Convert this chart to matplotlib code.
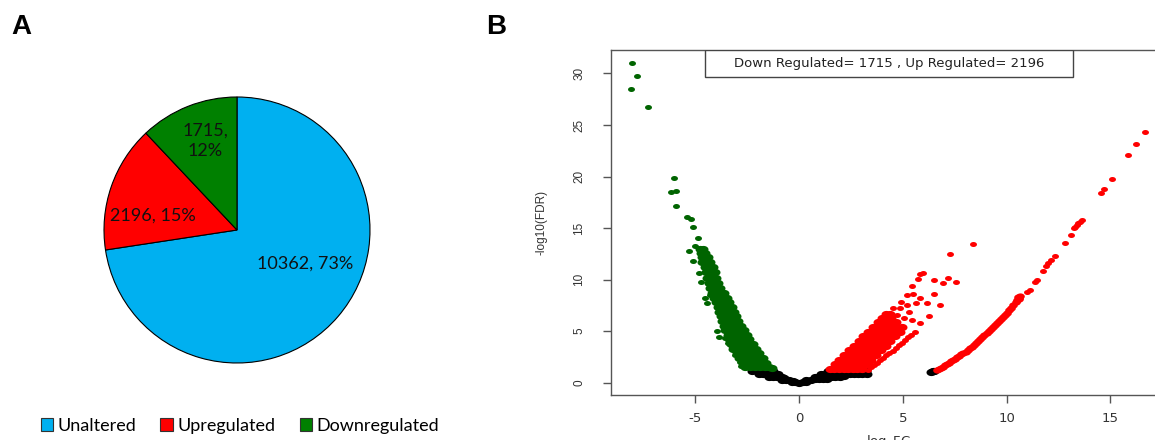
import numpy as np
import matplotlib
matplotlib.use("Agg")
import matplotlib.pyplot as plt
from matplotlib.path import Path
from matplotlib.patches import Rectangle, Patch

plt.rcParams['axes.unicode_minus'] = False

# ---------------- Panel A: gene categories ----------------
pie_labels = ["Unaltered", "Upregulated", "Downregulated"]
pie_counts = [10362, 2196, 1715]
pie_colors = ["#00B0F0", "#FF0000", "#008000"]

# ---------------- Panel B: volcano plot (logFC, -log10 FDR) ----------------
green_outliers = [
    (-8.08, 30.98), (-7.82, 29.75), (-8.11, 28.49), (-7.28, 26.71),
    (-6.02, 19.82), (-6.20, 18.47), (-5.94, 18.62), (-5.96, 17.11),
    (-5.43, 16.10), (-5.23, 15.91), (-5.11, 15.13), (-4.87, 14.06),
    (-5.01, 13.29), (-5.30, 12.80), (-5.11, 11.84), (-4.82, 10.67),
    (-4.74, 9.74), (-4.55, 8.20), (-4.45, 7.75), (-4.30, 8.51),
    (-3.95, 5.00), (-3.85, 4.40), (-3.58, 4.31), (-3.42, 3.82),
    (-3.26, 3.49), (-3.10, 2.69), (-2.85, 2.05), (-2.80, 1.60),
]
green_band = [
    (-4.78, 13.0), (-4.62, 13.0),
    (-4.74, 12.6), (-4.55, 12.6),
    (-4.70, 12.2), (-4.50, 12.2), (-4.38, 12.2),
    (-4.66, 11.7), (-4.45, 11.7), (-4.28, 11.7),
    (-4.55, 11.2), (-4.35, 11.2), (-4.17, 11.2),
    (-4.50, 10.7), (-4.30, 10.7), (-4.08, 10.7),
    (-4.42, 10.2), (-4.22, 10.2), (-4.00, 10.2),
    (-4.35, 9.7), (-4.15, 9.7), (-3.90, 9.7),
    (-4.28, 9.2), (-4.05, 9.2), (-3.80, 9.2),
    (-4.22, 8.7), (-4.00, 8.7), (-3.78, 8.7), (-3.62, 8.7),
    (-4.12, 8.25), (-3.90, 8.25), (-3.68, 8.25), (-3.50, 8.25),
    (-4.00, 7.8), (-3.80, 7.8), (-3.58, 7.8), (-3.38, 7.8),
    (-3.92, 7.35), (-3.70, 7.35), (-3.48, 7.35), (-3.26, 7.35),
    (-3.85, 6.9), (-3.62, 6.9), (-3.38, 6.9), (-3.16, 6.9),
    (-3.76, 6.45), (-3.54, 6.45), (-3.30, 6.45), (-3.06, 6.45),
    (-3.70, 6.0), (-3.46, 6.0), (-3.20, 6.0), (-2.96, 6.0),
    (-3.62, 5.55), (-3.38, 5.55), (-3.12, 5.55), (-2.90, 5.55), (-2.80, 5.55),
    (-3.56, 5.1), (-3.30, 5.1), (-3.04, 5.1), (-2.80, 5.1), (-2.66, 5.1),
    (-3.45, 4.65), (-3.20, 4.65), (-2.96, 4.65), (-2.72, 4.65), (-2.52, 4.65),
    (-3.38, 4.2), (-3.14, 4.2), (-2.90, 4.2), (-2.64, 4.2), (-2.40, 4.2),
    (-3.30, 3.75), (-3.08, 3.75), (-2.84, 3.75), (-2.58, 3.75), (-2.34, 3.75), (-2.24, 3.75),
    (-3.18, 3.3), (-2.96, 3.3), (-2.72, 3.3), (-2.48, 3.3), (-2.22, 3.3), (-2.08, 3.3),
    (-3.00, 2.85), (-2.78, 2.85), (-2.56, 2.85), (-2.32, 2.85), (-2.08, 2.85), (-1.92, 2.85),
    (-2.90, 2.4), (-2.66, 2.4), (-2.42, 2.4), (-2.18, 2.4), (-1.94, 2.4), (-1.76, 2.4),
    (-2.72, 1.95), (-2.50, 1.95), (-2.26, 1.95), (-2.02, 1.95), (-1.78, 1.95), (-1.60, 1.95),
    (-2.62, 1.5), (-2.38, 1.5), (-2.14, 1.5), (-1.90, 1.5), (-1.66, 1.5), (-1.45, 1.5), (-1.32, 1.45),
]
black_core = [
    (-2.25, 1.15), (-2.05, 1.15), (-1.85, 1.15), (-1.65, 1.15), (-1.45, 1.15), (-1.28, 1.12),
    (-1.95, 0.85), (-1.75, 0.85), (-1.55, 0.85), (-1.35, 0.85), (-1.15, 0.85), (-1.00, 0.80),
    (-1.45, 0.55), (-1.25, 0.55), (-1.05, 0.55), (-0.85, 0.55), (-0.72, 0.50),
    (-0.85, 0.30), (-0.65, 0.30), (-0.50, 0.28), (-0.30, 0.18),
    (-0.35, 0.08), (-0.18, 0.05), (0.00, 0.02), (0.18, 0.05), (0.35, 0.10),
    (0.35, 0.30), (0.55, 0.30), (0.75, 0.32), (0.95, 0.32), (1.15, 0.35), (1.35, 0.38),
    (0.75, 0.55), (0.95, 0.55), (1.15, 0.55), (1.35, 0.55), (1.55, 0.55), (1.75, 0.55),
    (1.95, 0.58), (2.15, 0.62),
    (1.05, 0.85), (1.25, 0.85), (1.45, 0.85), (1.65, 0.85), (1.85, 0.85), (2.05, 0.85),
    (2.25, 0.85), (2.45, 0.85), (2.65, 0.85), (2.85, 0.85), (3.05, 0.85), (3.25, 0.88),
    (1.40, 1.15), (1.60, 1.15), (1.80, 1.15), (2.00, 1.15), (2.20, 1.15), (2.40, 1.15),
    (2.60, 1.15), (2.80, 1.15), (3.00, 1.15), (3.20, 1.12),
    (6.35, 1.05), (6.45, 1.10), (6.52, 1.12),
]
red_cluster = [
    (1.48, 1.35), (1.70, 1.35), (1.92, 1.35), (2.14, 1.35), (2.36, 1.35), (2.58, 1.35), (2.80, 1.35), (3.02, 1.35),
    (1.71, 1.8), (1.93, 1.8), (2.15, 1.8), (2.37, 1.8), (2.59, 1.8), (2.81, 1.8), (3.03, 1.8), (3.25, 1.8),
    (1.94, 2.25), (2.16, 2.25), (2.38, 2.25), (2.60, 2.25), (2.82, 2.25), (3.04, 2.25), (3.26, 2.25), (3.48, 2.25),
    (2.17, 2.7), (2.39, 2.7), (2.61, 2.7), (2.83, 2.7), (3.05, 2.7), (3.27, 2.7), (3.49, 2.7), (3.71, 2.7),
    (2.40, 3.15), (2.62, 3.15), (2.84, 3.15), (3.06, 3.15), (3.28, 3.15), (3.50, 3.15), (3.72, 3.15), (3.94, 3.15),
    (2.63, 3.6), (2.85, 3.6), (3.07, 3.6), (3.29, 3.6), (3.51, 3.6), (3.73, 3.6), (3.95, 3.6), (4.17, 3.6),
    (2.86, 4.05), (3.08, 4.05), (3.30, 4.05), (3.52, 4.05), (3.74, 4.05), (3.96, 4.05), (4.18, 4.05), (4.40, 4.05),
    (3.09, 4.5), (3.31, 4.5), (3.53, 4.5), (3.75, 4.5), (3.97, 4.5), (4.19, 4.5), (4.41, 4.5), (4.63, 4.5),
    (3.32, 4.95), (3.54, 4.95), (3.76, 4.95), (3.98, 4.95), (4.20, 4.95), (4.42, 4.95), (4.64, 4.95), (4.86, 4.95),
    (3.55, 5.4), (3.77, 5.4), (3.99, 5.4), (4.21, 5.4), (4.43, 5.4), (4.65, 5.4), (4.95, 5.4),
    (3.78, 5.85), (4.00, 5.85), (4.22, 5.85), (4.44, 5.85), (4.66, 5.85),
    (4.00, 6.3), (4.22, 6.3), (4.44, 6.3),
    (4.20, 6.7), (4.40, 6.7),
]
red_streak = [
    (3.30, 1.25), (3.45, 1.50), (3.60, 1.73), (3.75, 1.96), (3.90, 2.19), (4.05, 2.42),
    (4.20, 2.65), (4.35, 2.88), (4.50, 3.12), (4.65, 3.36), (4.80, 3.62), (4.95, 3.88),
    (5.10, 4.15), (5.25, 4.40), (5.40, 4.62),
]
red_scatter = [
    (8.39, 13.45), (7.26, 12.45), (5.98, 10.61), (5.82, 10.51), (5.73, 10.06),
    (6.49, 9.96), (7.18, 10.19), (6.94, 9.64), (7.58, 9.74), (5.46, 9.41),
    (5.22, 8.51), (5.49, 8.57), (5.82, 8.25), (6.49, 8.57), (4.93, 7.86),
    (5.18, 7.54), (5.62, 7.70), (6.14, 7.70), (6.78, 7.54), (4.53, 7.22),
    (5.30, 6.89), (6.25, 6.47), (5.42, 6.08), (5.82, 5.76), (4.85, 7.20),
    (4.70, 6.60), (5.05, 6.30), (5.60, 4.95),
]
red_arm = [
    (6.62, 1.23), (6.72, 1.33), (6.82, 1.45), (6.92, 1.56), (7.02, 1.68), (7.12, 1.80),
    (7.22, 1.93), (7.32, 2.07), (7.42, 2.20), (7.52, 2.33), (7.62, 2.46), (7.72, 2.60),
    (7.82, 2.74), (7.92, 2.88), (8.02, 3.02), (8.12, 3.17), (8.23, 3.33), (8.33, 3.50),
    (8.43, 3.67), (8.53, 3.84), (8.63, 4.02), (8.73, 4.20), (8.83, 4.40), (8.93, 4.60),
    (9.03, 4.79), (9.13, 4.98), (9.23, 5.18), (9.33, 5.38), (9.43, 5.58), (9.53, 5.78),
    (9.63, 5.98), (9.73, 6.18), (9.83, 6.38), (9.93, 6.58), (10.03, 6.80), (10.13, 7.02),
    (10.23, 7.25), (10.33, 7.50), (10.43, 7.80), (10.50, 8.05), (10.58, 8.25), (10.65, 8.40),
    (10.60, 8.10), (10.55, 8.35),
]
red_tail = [
    (10.96, 8.83), (11.12, 8.99), (11.36, 9.80), (11.45, 9.95), (11.76, 10.83),
    (11.92, 11.32), (12.00, 11.58), (12.16, 11.90), (12.32, 12.29), (12.80, 13.55),
    (13.08, 14.33), (13.24, 14.98), (13.30, 15.12), (13.37, 15.30), (13.45, 15.45),
    (13.53, 15.62), (13.61, 15.78), (14.54, 18.43), (14.70, 18.79), (15.07, 19.79),
    (15.83, 22.06), (16.23, 23.15), (16.66, 24.35),
]

fig = plt.figure(figsize=(11.55, 4.4), dpi=100)
fig.patch.set_facecolor("white")
W, H = 1155.0, 440.0

# ---------------- Panel A ----------------
cx, cy, rad = 237.0, 230.0, 133.0
ax_pie = fig.add_axes([(cx - rad) / W, (H - cy - rad) / H, 2 * rad / W, 2 * rad / H])
wedges, _ = ax_pie.pie(pie_counts, colors=pie_colors, startangle=90, counterclock=False,
                       radius=1.0, wedgeprops=dict(edgecolor="black", linewidth=0.8))
for w in wedges:
    w.set_clip_on(False)
ax_pie.set_xlim(-1, 1)
ax_pie.set_ylim(-1, 1)
ax_pie.set_aspect("equal")
ax_pie.axis("off")

total = sum(pie_counts)
pcts = [round(100 * c / total) for c in pie_counts]
label_pos = [(0.51, -0.25), (-0.63, 0.105), (-0.24, 0.67)]
label_txt = [f"{pie_counts[0]}, {pcts[0]}%", f"{pie_counts[1]}, {pcts[1]}%",
             f"{pie_counts[2]},\n{pcts[2]}%"]
for (lx, ly), t in zip(label_pos, label_txt):
    ax_pie.text(lx, ly, t, ha="center", va="center", family="Lato", fontsize=13,
                color="#111111", linespacing=1.3, multialignment="center")

handles = [Patch(facecolor=c, edgecolor="#333333", linewidth=0.8) for c in pie_colors]
fig.legend(handles, pie_labels, loc="center", bbox_to_anchor=(240 / W, 1 - 426 / H),
           ncol=3, frameon=False, prop=dict(family="Lato", size=13),
           handlelength=0.7, handleheight=0.7, handletextpad=0.25, columnspacing=1.33)

fig.text(21 / W, 1 - 27 / H, "A", fontsize=20, weight="bold", family="Liberation Sans",
         ha="center", va="center")
fig.text(496 / W, 1 - 27 / H, "B", fontsize=20, weight="bold", family="Liberation Sans",
         ha="center", va="center")

# ---------------- Panel B ----------------
ax = fig.add_axes([611 / W, 45 / H, 555.4 / W, 345 / H])
t = np.linspace(0, 2 * np.pi, 40)
dot = Path(np.column_stack([np.cos(t), 0.72 * np.sin(t)]))

def pts(arr):
    a = np.array(arr, dtype=float)
    return a[:, 0], a[:, 1]

groups = [
    (black_core, "black", 7.2),
    (green_band, "#006400", 7.2),
    (green_outliers, "#006400", 5.0),
    (red_cluster, "#FF0000", 7.2),
    (red_streak, "#FF0000", 5.0),
    (red_scatter, "#FF0000", 5.0),
    (red_arm, "#FF0000", 6.2),
    (red_tail, "#FF0000", 5.0),
]
for data, col, size in groups:
    x, y = pts(data)
    ax.plot(x, y, linestyle="none", marker=dot, markersize=size, markeredgewidth=0,
            color=col, clip_on=False)

ax.set_xlim(-9.07, 17.70)
ax.set_ylim(-1.19, 32.27)
ax.set_xticks([-5, 0, 5, 10, 15])
ax.set_xticklabels(["-5", "0", "5", "10", "15"], family="DejaVu Sans", fontsize=9.5, color="#333333")
ax.set_yticks([0, 5, 10, 15, 20, 25, 30])
ax.set_yticklabels(["0", "5", "10", "15", "20", "25", "30"], family="Liberation Sans",
                   fontsize=8.5, rotation=90, va="center", ha="right", color="#333333")
ax.tick_params(axis="x", length=6, width=1, color="#555555", pad=6)
ax.tick_params(axis="y", length=6, width=1, color="#555555", pad=12.5)
for s in ax.spines.values():
    s.set_color("#555555")
    s.set_linewidth(1)
ax.set_ylabel("-log10(FDR)", family="Liberation Sans", fontsize=8.5, color="#333333", labelpad=18.5)
fig.text(888 / W, 1 - 433 / H, "log$_2$FC", family="DejaVu Sans", fontsize=9.5,
         ha="center", va="top", color="#333333")

bw, bh = 368 / 555.4, 27 / 345
ax.add_patch(Rectangle((0.5 - bw / 2, 1 - bh), bw, bh, transform=ax.transAxes,
                       facecolor="white", edgecolor="#444444", linewidth=1, zorder=5))
ax.text(0.5, 1 - bh / 2, f"Down Regulated= {pie_counts[2]} , Up Regulated= {pie_counts[1]}",
        transform=ax.transAxes, ha="center", va="center", family="DejaVu Sans",
        fontsize=9.5, color="#222222", zorder=6)

fig.savefig("out.png", dpi=100)
